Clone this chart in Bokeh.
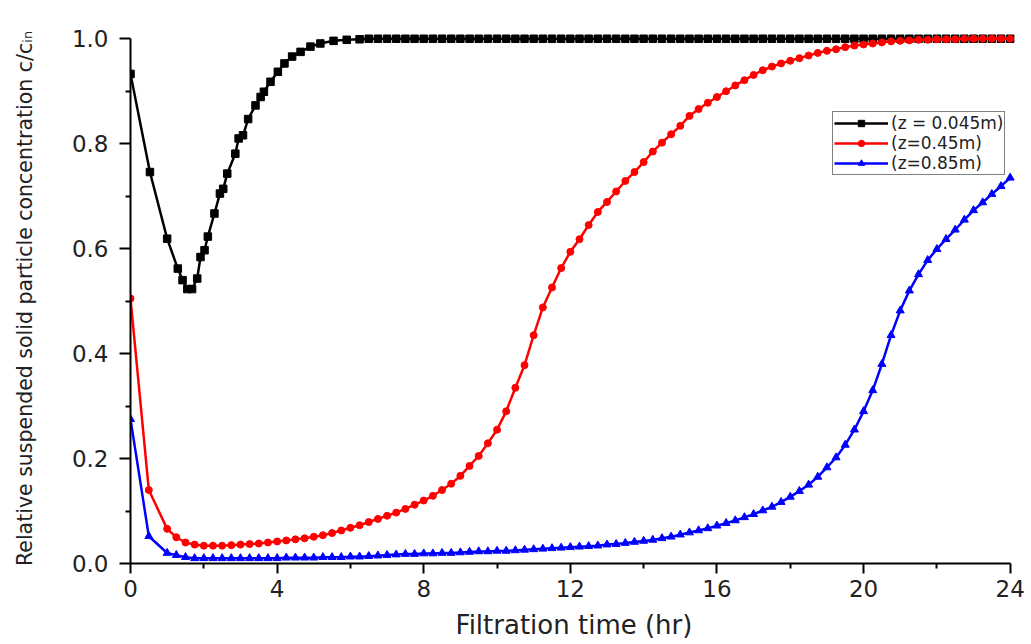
from bokeh.plotting import figure
from bokeh.models import Range1d, FixedTicker, Legend, LegendItem, PrintfTickFormatter
from bokeh.embed import file_html
from bokeh.resources import INLINE

# ---------------- data ----------------
x_ticks = [0, 4, 8, 12, 16, 20, 24]
x_minor = [2, 6, 10, 14, 18, 22]
y_ticks = [0.0, 0.2, 0.4, 0.6, 0.8, 1.0]
y_minor = [0.1, 0.3, 0.5, 0.7, 0.9]

x_title = "Filtration time (hr)"
y_title = "Relative suspended solid particle concentration c/c\u1d62\u2099"
labels = ["(z = 0.045m)", "(z=0.45m)", "(z=0.85m)"]

t_black = [0.0, 0.53, 1.0, 1.29, 1.42, 1.55, 1.68, 1.82, 1.91, 2.02,
           2.11, 2.29, 2.44, 2.53, 2.64, 2.86, 2.95, 3.07, 3.21, 3.41,
           3.55, 3.64, 3.82, 4.02, 4.2, 4.41, 4.64, 4.91, 5.18, 5.54,
           5.9, 6.25, 6.5, 6.75, 7.0, 7.25, 7.5, 7.75, 8.0, 8.25,
           8.5, 8.75, 9.0, 9.25, 9.5, 9.75, 10.0, 10.25, 10.5, 10.75,
           11.0, 11.25, 11.5, 11.75, 12.0, 12.25, 12.5, 12.75, 13.0, 13.25,
           13.5, 13.75, 14.0, 14.25, 14.5, 14.75, 15.0, 15.25, 15.5, 15.75,
           16.0, 16.25, 16.5, 16.75, 17.0, 17.25, 17.5, 17.75, 18.0, 18.25,
           18.5, 18.75, 19.0, 19.25, 19.5, 19.75, 20.0, 20.25, 20.5, 20.75,
           21.0, 21.25, 21.5, 21.75, 22.0, 22.25, 22.5, 22.75, 23.0, 23.25,
           23.5, 23.75, 24.0]
c_black = [0.933, 0.746, 0.619, 0.562, 0.540, 0.523, 0.523, 0.543, 0.584, 0.597,
           0.623, 0.667, 0.705, 0.714, 0.743, 0.781, 0.810, 0.816, 0.847, 0.873,
           0.889, 0.899, 0.918, 0.937, 0.953, 0.966, 0.975, 0.985, 0.991, 0.996,
           0.998, 0.999, 1.0, 1.0, 1.0, 1.0, 1.0, 1.0, 1.0, 1.0,
           1.0, 1.0, 1.0, 1.0, 1.0, 1.0, 1.0, 1.0, 1.0, 1.0,
           1.0, 1.0, 1.0, 1.0, 1.0, 1.0, 1.0, 1.0, 1.0, 1.0,
           1.0, 1.0, 1.0, 1.0, 1.0, 1.0, 1.0, 1.0, 1.0, 1.0,
           1.0, 1.0, 1.0, 1.0, 1.0, 1.0, 1.0, 1.0, 1.0, 1.0,
           1.0, 1.0, 1.0, 1.0, 1.0, 1.0, 1.0, 1.0, 1.0, 1.0,
           1.0, 1.0, 1.0, 1.0, 1.0, 1.0, 1.0, 1.0, 1.0, 1.0,
           1.0, 1.0, 1.0]

t_rb = [0.0, 0.5, 1.0, 1.25, 1.5, 1.75, 2.0, 2.25, 2.5, 2.75,
        3.0, 3.25, 3.5, 3.75, 4.0, 4.25, 4.5, 4.75, 5.0, 5.25,
        5.5, 5.75, 6.0, 6.25, 6.5, 6.75, 7.0, 7.25, 7.5, 7.75,
        8.0, 8.25, 8.5, 8.75, 9.0, 9.25, 9.5, 9.75, 10.0, 10.25,
        10.5, 10.75, 11.0, 11.25, 11.5, 11.75, 12.0, 12.25, 12.5, 12.75,
        13.0, 13.25, 13.5, 13.75, 14.0, 14.25, 14.5, 14.75, 15.0, 15.25,
        15.5, 15.75, 16.0, 16.25, 16.5, 16.75, 17.0, 17.25, 17.5, 17.75,
        18.0, 18.25, 18.5, 18.75, 19.0, 19.25, 19.5, 19.75, 20.0, 20.25,
        20.5, 20.75, 21.0, 21.25, 21.5, 21.75, 22.0, 22.25, 22.5, 22.75,
        23.0, 23.25, 23.5, 23.75, 24.0]
c_red = [0.505, 0.140, 0.066, 0.050, 0.040, 0.036, 0.034, 0.034, 0.034, 0.035,
         0.036, 0.037, 0.038, 0.040, 0.042, 0.044, 0.046, 0.048, 0.051, 0.054,
         0.058, 0.063, 0.068, 0.073, 0.079, 0.085, 0.091, 0.097, 0.104, 0.112,
         0.120, 0.129, 0.140, 0.152, 0.167, 0.186, 0.205, 0.229, 0.255, 0.290,
         0.335, 0.378, 0.435, 0.488, 0.526, 0.563, 0.594, 0.618, 0.645, 0.670,
         0.689, 0.709, 0.729, 0.746, 0.765, 0.785, 0.802, 0.818, 0.834, 0.853,
         0.866, 0.878, 0.889, 0.900, 0.911, 0.921, 0.931, 0.940, 0.947, 0.953,
         0.958, 0.963, 0.968, 0.973, 0.977, 0.980, 0.984, 0.987, 0.989, 0.991,
         0.993, 0.995, 0.996, 0.997, 0.998, 0.998, 0.999, 0.999, 0.999, 1.0,
         1.0, 1.0, 1.0, 1.0, 1.0]
c_blue = [0.275, 0.052, 0.020, 0.016, 0.012, 0.010, 0.010, 0.010, 0.010, 0.010,
          0.010, 0.010, 0.010, 0.010, 0.010, 0.011, 0.011, 0.011, 0.011, 0.012,
          0.012, 0.012, 0.013, 0.013, 0.014, 0.015, 0.016, 0.017, 0.018, 0.018,
          0.019, 0.019, 0.020, 0.020, 0.021, 0.022, 0.023, 0.023, 0.024, 0.024,
          0.025, 0.026, 0.027, 0.028, 0.029, 0.030, 0.031, 0.032, 0.033, 0.034,
          0.036, 0.037, 0.039, 0.041, 0.043, 0.045, 0.048, 0.051, 0.055, 0.059,
          0.063, 0.067, 0.072, 0.077, 0.082, 0.088, 0.094, 0.101, 0.108, 0.117,
          0.127, 0.138, 0.150, 0.165, 0.183, 0.202, 0.226, 0.255, 0.290, 0.330,
          0.380, 0.435, 0.482, 0.520, 0.551, 0.578, 0.599, 0.618, 0.636, 0.655,
          0.673, 0.688, 0.704, 0.719, 0.735]

# ---------------- figure ----------------
FONT = "DejaVu Sans"
TXT = "#222222"

p = figure(width=1031, height=644, output_backend="svg", toolbar_location=None,
           x_range=Range1d(0, 24.2), y_range=Range1d(0, 1.01),
           min_border_left=130, min_border_right=14,
           min_border_top=33, min_border_bottom=81)
p.outline_line_color = None
p.xgrid.visible = False
p.ygrid.visible = False
p.background_fill_color = "white"
p.border_fill_color = "white"

for ax in (p.xaxis[0], p.yaxis[0]):
    ax.axis_line_width = 2
    ax.axis_line_color = "black"
    ax.major_tick_line_width = 2
    ax.minor_tick_line_width = 2
    ax.major_tick_line_color = "black"
    ax.minor_tick_line_color = "black"
    ax.major_tick_in = 0
    ax.minor_tick_in = 0
    ax.minor_tick_out = 5
    ax.major_label_text_font = FONT
    ax.major_label_text_font_size = "23px"
    ax.major_label_text_color = TXT
    ax.axis_label_text_font = FONT
    ax.axis_label_text_font_style = "normal"
    ax.axis_label_text_color = TXT

p.xaxis.ticker = FixedTicker(ticks=x_ticks, minor_ticks=x_minor)
p.xaxis.formatter = PrintfTickFormatter(format="%d")
p.xaxis.bounds = (0, 24)
p.xaxis.major_tick_out = 10
p.xaxis.major_label_standoff = 6
p.xaxis.axis_label = x_title
p.xaxis.axis_label_text_font_size = "26px"
p.xaxis.axis_label_standoff = 10

p.yaxis.ticker = FixedTicker(ticks=y_ticks, minor_ticks=y_minor)
p.yaxis.formatter = PrintfTickFormatter(format="%.1f")
p.yaxis.bounds = (0, 1)
p.yaxis.major_tick_out = 11
p.yaxis.major_label_standoff = 11
p.yaxis.axis_label = y_title
p.yaxis.axis_label_text_font_size = "20.5px"
p.yaxis.axis_label_standoff = 32

# ---------------- series ----------------
lb = p.line(t_black, c_black, line_color="black", line_width=2.5)
sb = p.scatter(t_black, c_black, marker="square", size=7.5, color="black")
lr = p.line(t_rb, c_red, line_color="#ff0000", line_width=2.5)
sr = p.scatter(t_rb, c_red, marker="circle", size=7, color="#ff0000")
lu = p.line(t_rb, c_blue, line_color="#0000ff", line_width=2.5)
su = p.scatter(t_rb, c_blue, marker="triangle", size=8, color="#0000ff")

legend = Legend(items=[LegendItem(label=labels[0], renderers=[lb, sb]),
                       LegendItem(label=labels[1], renderers=[lr, sr]),
                       LegendItem(label=labels[2], renderers=[lu, su])],
                location=(702, 388))
legend.border_line_color = "black"
legend.border_line_width = 1.5
legend.background_fill_color = "white"
legend.background_fill_alpha = 1
legend.label_text_font = FONT
legend.label_text_font_size = "17px"
legend.label_text_color = TXT
legend.label_text_line_height = 1.0
legend.glyph_width = 54
legend.glyph_height = 16
legend.label_height = 16
legend.spacing = 0
legend.padding = 1
legend.margin = 0
legend.label_standoff = 3
p.add_layout(legend)

open("out.html", "w").write(file_html(p, INLINE))
